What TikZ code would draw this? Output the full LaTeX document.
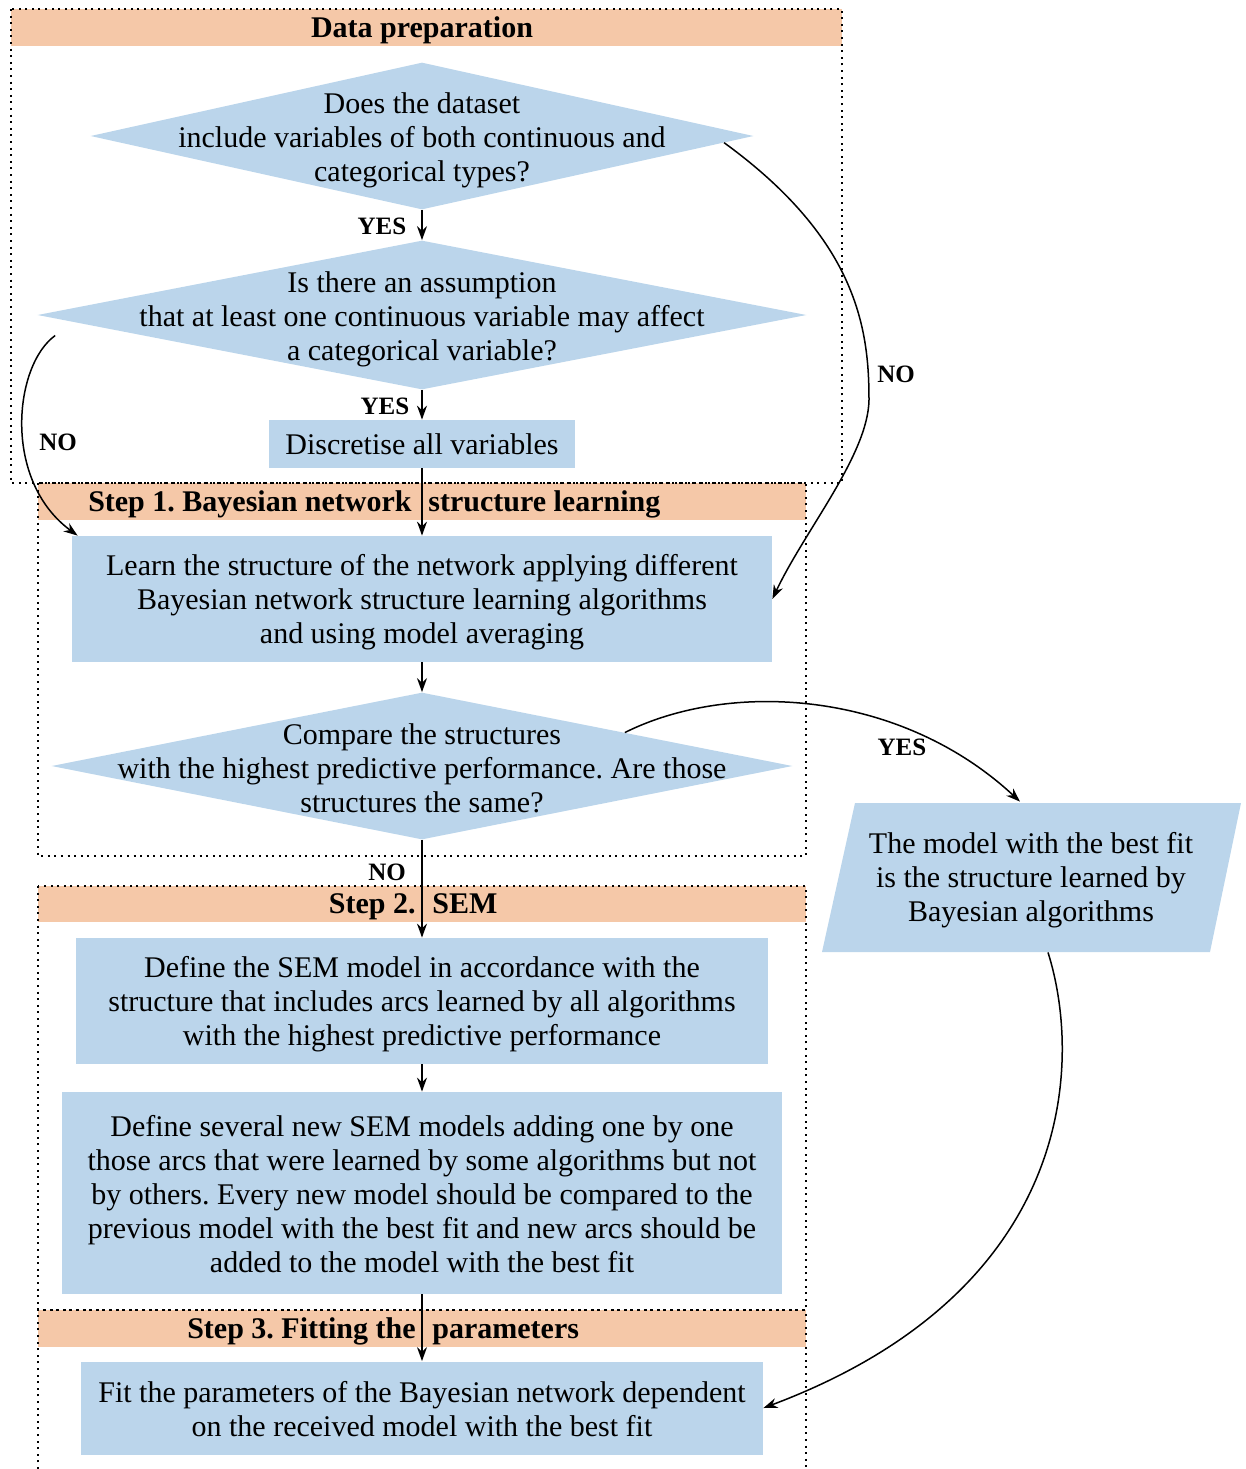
\documentclass[tikz,border=0pt]{standalone}
\usepackage{fontspec}
\setmainfont{Liberation Serif}
\usetikzlibrary{shapes.geometric,arrows.meta,calc,backgrounds}
\definecolor{boxblue}{RGB}{187,213,235}
\definecolor{bandorange}{RGB}{245,200,168}
\newcommand\fs{\rule{0pt}{14pt}}
\newcommand\ls{\rule[-3pt]{0pt}{3pt}}
\frenchspacing
\begin{document}
\begin{tikzpicture}[x=0.5pt,y=-0.5pt,
  every node/.style={font=\fontsize{15}{17}\selectfont, inner sep=0pt},
  mybox/.style={fill=boxblue, align=center},
  mydia/.style={diamond, fill=boxblue, inner sep=0pt},
  mytext/.style={align=center},
  myband/.style={fill=bandorange},
  myframe/.style={line width=1pt, dash pattern=on 1pt off 2.3pt},
  myarr/.style={line width=0.75pt, -{Stealth[length=7pt,width=5pt]}},
  mylbl/.style={font=\fontsize{12.5}{14}\selectfont\bfseries},
  myhead/.style={font=\fontsize{15}{17}\selectfont\bfseries},
]
\useasboundingbox (0,0) rectangle (1246,1469);

% bands and frames
\fill[myband] (11,9) rectangle (842,46);
\fill[myband] (38,483) rectangle (806,520);
\fill[myband] (38,886) rectangle (806,922);
\fill[myband] (38,1310) rectangle (806,1347);
\draw[myframe] (11,9) rectangle (842,483);
\draw[myframe] (38,483) rectangle (806,856);
\draw[myframe] (38,886) rectangle (806,1310);
\draw[myframe] (38,1469) -- (38,1310) -- (806,1310) -- (806,1469);

% headers
\node[myhead, anchor=base] (h0) at (422,37) {Data preparation};
\node[myhead, anchor=base east] (h1a) at (412,511) {Step 1. Bayesian network};
\node[myhead, anchor=base west] (h1b) at (428,511) {structure learning};
\node[myhead, anchor=base east] (h2a) at (416,913) {Step 2.};
\node[myhead, anchor=base west] (h2b) at (432,913) {SEM};
\node[myhead, anchor=base east] (h3a) at (416,1338) {Step 3. Fitting the};
\node[myhead, anchor=base west] (h3b) at (432,1338) {parameters};

% diamonds
\node[mydia, minimum width=331.5pt, minimum height=73.5pt] (d1) at (422,136) {};
\node[mytext] (t1) at (422,137) {\fs Does the dataset\\include variables of both continuous and\\categorical types?\ls};
\node[mydia, minimum width=384.5pt, minimum height=74.5pt] (d2) at (422,315) {};
\node[mytext] (t2) at (422,316) {\fs Is there an assumption\\that at least one continuous variable may affect\\a categorical variable?\ls};
\node[mydia, minimum width=370.5pt, minimum height=73.5pt] (d3) at (422,766) {};
\node[mytext] (t3) at (422,767) {\fs Compare the structures\\with the highest predictive performance. Are those\\structures the same?\ls};

% boxes
\node[mybox, minimum width=153pt, minimum height=24pt] (disc) at (422,444) {Discretise all variables};
\node[mybox, minimum width=350pt, minimum height=63pt] (learn) at (422,599) {\fs Learn the structure of the network applying different\\Bayesian network structure learning algorithms\\and using model averaging\ls};
\node[mybox, minimum width=346pt, minimum height=63pt] (sem1) at (422,1001) {\fs Define the SEM model in accordance with the\\structure that includes arcs learned by all algorithms\\with the highest predictive performance\ls};
\node[mybox, minimum width=360pt, minimum height=101pt] (sem2) at (422,1193) {\fs Define several new SEM models adding one by one\\those arcs that were learned by some algorithms but not\\by others. Every new model should be compared to the\\previous model with the best fit and new arcs should be\\added to the model with the best fit\ls};
\node[mybox, minimum width=341pt, minimum height=46.5pt] (fit) at (422,1408) {\fs Fit the parameters of the Bayesian network dependent\\on the received model with the best fit\ls};

% parallelogram
\node[mytext, minimum width=193pt, minimum height=75pt] (par) at (1031,877) {\fs The model with the best fit\\is the structure learned by\\Bayesian algorithms\ls};
\begin{scope}[on background layer]
\fill[boxblue] ($(par.center)+(-176,-74)$) -- ($(par.center)+(210,-74)$) -- ($(par.center)+(179,75)$) -- ($(par.center)+(-209,75)$) -- cycle;
\end{scope}

% straight arrows
\draw[myarr] (d1.south) -- (d2.north);
\draw[myarr] (d2.south) -- (disc.north);
\draw[myarr] (disc.south) -- (learn.north);
\draw[myarr] (learn.south) -- (d3.north);
\draw[myarr] (d3.south) -- (sem1.north);
\draw[myarr] (sem1.south) -- (sem2.north);
\draw[myarr] (sem2.south) -- (fit.north);

% curved arrows
\draw[myarr] ($(d1.east)!0.09!(d1.south)$) .. controls (858,240) and (869,330) .. (869,400) .. controls (868,455) and (805,530) .. (learn.east);
\draw[myarr] ($(d2.west)!0.047!(d2.south)+(0,17)$) .. controls (14,365) and (2,480) .. ([xshift=3pt]learn.north west);
\draw[myarr] ($(d3.north)!0.547!(d3.east)$) .. controls (730,680) and (900,690) .. ([xshift=-5.5pt]par.north);
\draw[myarr] ([xshift=8.5pt]par.south) .. controls (1082,1060) and (1078,1290) .. (fit.east);

% labels
\node[mylbl] (l1) at (382,226) {YES};
\node[mylbl] (l2) at (385,406) {YES};
\node[mylbl] (l3) at (896,374) {NO};
\node[mylbl] (l4) at (58,442) {NO};
\node[mylbl] (l5) at (902,747) {YES};
\node[mylbl] (l6) at (387,872) {NO};
\end{tikzpicture}
\end{document}
